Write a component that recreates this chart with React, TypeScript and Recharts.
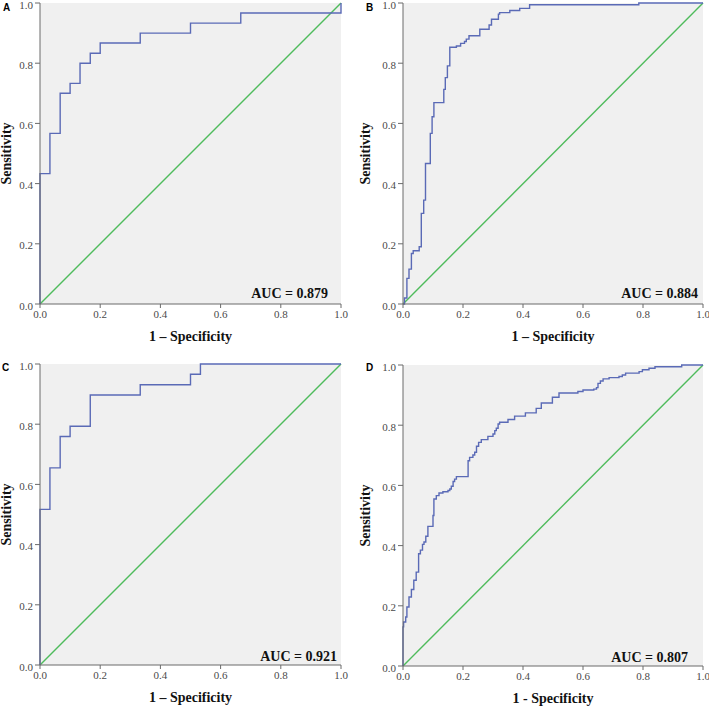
import { CartesianGrid, Line, LineChart, ReferenceLine, XAxis, YAxis } from 'recharts';

type Pt = [number, number];

const TICKS = [0, 0.2, 0.4, 0.6, 0.8, 1];
const PANEL_LETTERS = ['A', 'B', 'C', 'D'];
const AUC_VALUES = ['0.879', '0.884', '0.921', '0.807'];
const X_LABELS = ['1 – Specificity', '1 – Specificity', '1 – Specificity', '1 - Specificity'];
const DIAGONAL: Pt[] = [[0, 0], [1, 1]];

// ROC points (1 - specificity, sensitivity); drawn as step-after
const ROC_A: Pt[] = [
  [0, 0], [0, 0.433], [0.033, 0.567], [0.067, 0.7], [0.1, 0.733], [0.133, 0.8],
  [0.167, 0.833], [0.2, 0.867], [0.333, 0.9], [0.5, 0.933], [0.667, 0.967], [1, 1],
];

const ROC_B: Pt[] = [
  [0, 0], [0.005, 0.02], [0.013, 0.085], [0.02, 0.116], [0.028, 0.168], [0.034, 0.177],
  [0.054, 0.19], [0.061, 0.301], [0.069, 0.345], [0.075, 0.467], [0.091, 0.567],
  [0.097, 0.622], [0.103, 0.669], [0.136, 0.713], [0.141, 0.752], [0.148, 0.791],
  [0.156, 0.853], [0.178, 0.857], [0.192, 0.866], [0.205, 0.872], [0.211, 0.88],
  [0.22, 0.891], [0.256, 0.913], [0.287, 0.927], [0.295, 0.946], [0.318, 0.963],
  [0.322, 0.968], [0.356, 0.975], [0.389, 0.982], [0.422, 0.994], [0.786, 1], [1, 1],
];

const ROC_C: Pt[] = [
  [0, 0], [0, 0.517], [0.033, 0.655], [0.067, 0.759], [0.1, 0.793], [0.167, 0.897],
  [0.333, 0.931], [0.5, 0.966], [0.533, 1], [1, 1],
];

const ROC_D: Pt[] = [
  [0, 0], [0, 0.13], [0.002, 0.146], [0.009, 0.163], [0.013, 0.196], [0.02, 0.229],
  [0.028, 0.254], [0.036, 0.285], [0.044, 0.312], [0.052, 0.373], [0.058, 0.385],
  [0.065, 0.404], [0.07, 0.412], [0.076, 0.431], [0.083, 0.464], [0.1, 0.5],
  [0.103, 0.555], [0.111, 0.566], [0.12, 0.575], [0.133, 0.579], [0.15, 0.583],
  [0.156, 0.588], [0.161, 0.597], [0.167, 0.613], [0.172, 0.621], [0.178, 0.629],
  [0.217, 0.682], [0.222, 0.693], [0.233, 0.701], [0.239, 0.71], [0.245, 0.73],
  [0.252, 0.743], [0.261, 0.752], [0.283, 0.763], [0.3, 0.771], [0.306, 0.782],
  [0.311, 0.79], [0.317, 0.804], [0.322, 0.81], [0.35, 0.819], [0.372, 0.83],
  [0.408, 0.841], [0.444, 0.856], [0.461, 0.874], [0.498, 0.893], [0.52, 0.907],
  [0.583, 0.912], [0.6, 0.917], [0.636, 0.92], [0.645, 0.925], [0.65, 0.939],
  [0.658, 0.947], [0.667, 0.954], [0.687, 0.958], [0.72, 0.962], [0.731, 0.967],
  [0.742, 0.973], [0.787, 0.978], [0.798, 0.984], [0.82, 0.989], [0.84, 0.994],
  [0.929, 1], [1, 1],
];

const ROC_CURVES = [ROC_A, ROC_B, ROC_C, ROC_D];

const LAYOUT = [
  { left: 0, top: 0, width: 355, height: 350, margin: { top: 3, right: 14, bottom: 6, left: 0 }, yAxisWidth: 40, yLabelOffset: 6, letterPos: { left: 3, top: 3 }, aucRight: 328, aucTop: 286.5 },
  { left: 355, top: 0, width: 354, height: 350, margin: { top: 3, right: 6, bottom: 6, left: 0 }, yAxisWidth: 48, yLabelOffset: 10, letterPos: { left: 366, top: 3 }, aucRight: 698, aucTop: 286.5 },
  { left: 0, top: 350, width: 355, height: 356, margin: { top: 14, right: 14, bottom: 1, left: 0 }, yAxisWidth: 40, yLabelOffset: 6, letterPos: { left: 2, top: 363 }, aucRight: 337, aucTop: 650 },
  { left: 355, top: 350, width: 354, height: 356, margin: { top: 15, right: 6, bottom: 0, left: 0 }, yAxisWidth: 48, yLabelOffset: 10, letterPos: { left: 366, top: 363 }, aucRight: 688, aucTop: 651 },
];

const BLUE = '#5a6ab6';
const GREEN = '#4fbb5c';
const FRAME = '#6b6b6b';
const SERIF = '"Liberation Serif", "Times New Roman", serif';

const toRows = (pts: Pt[]) => pts.map(([fpr, tpr]) => ({ fpr, tpr }));
const fmt = (v: number) => v.toFixed(1);

const tickText = { fontSize: 11, fill: '#4a4a4a', fontFamily: SERIF };

// y tick labels sit a touch below their tick, like the original
function YTick({ x, y, payload }: any) {
  return (
    <text x={x} y={y} dy={5.5} textAnchor="end" style={tickText}>
      {fmt(payload.value)}
    </text>
  );
}

function RocPanel({ index }: { index: number }) {
  const lay = LAYOUT[index];
  const labelStyle = { fontSize: 14, fontWeight: 700, fill: '#111', fontFamily: SERIF };
  const [p0, p1] = DIAGONAL;

  return (
    <div style={{ position: 'absolute', left: lay.left, top: lay.top }}>
      <LineChart width={lay.width} height={lay.height} margin={lay.margin}>
        <CartesianGrid fill="#f0f0f0" horizontal={false} vertical={false} />
        <XAxis
          type="number"
          dataKey="fpr"
          domain={[0, 1]}
          ticks={TICKS}
          interval={0}
          tickFormatter={fmt}
          tick={tickText}
          tickSize={4}
          height={40}
          stroke={FRAME}
          label={{ value: X_LABELS[index], position: 'insideBottom', offset: 3, style: labelStyle }}
        />
        <XAxis xAxisId="top" orientation="top" type="number" domain={[0, 1]} tick={false} tickLine={false} height={0} stroke={FRAME} />
        <YAxis
          type="number"
          domain={[0, 1]}
          ticks={TICKS}
          interval={0}
          tick={<YTick />}
          tickSize={5}
          width={lay.yAxisWidth}
          stroke={FRAME}
          label={{ value: 'Sensitivity', angle: -90, position: 'insideLeft', offset: lay.yLabelOffset, style: { ...labelStyle, textAnchor: 'middle' } }}
        />
        <YAxis yAxisId="right" orientation="right" type="number" domain={[0, 1]} tick={false} tickLine={false} width={0} stroke={FRAME} />
        <ReferenceLine
          segment={[{ x: p0[0], y: p0[1] }, { x: p1[0], y: p1[1] }]}
          stroke={GREEN}
          strokeWidth={1.4}
        />
        <Line
          data={toRows(ROC_CURVES[index])}
          dataKey="tpr"
          name={`roc-${PANEL_LETTERS[index]}`}
          type="stepAfter"
          stroke={BLUE}
          strokeWidth={1.4}
          dot={false}
          activeDot={false}
          isAnimationActive={false}
        />
      </LineChart>
    </div>
  );
}

export default function App() {
  return (
    <div style={{ position: 'absolute', left: 0, top: 0, width: 709, height: 706, background: '#fff' }}>
      {LAYOUT.map((_, i) => (
        <RocPanel key={i} index={i} />
      ))}
      {LAYOUT.map((lay, i) => (
        <div
          key={`l${i}`}
          style={{ position: 'absolute', left: lay.letterPos.left, top: lay.letterPos.top, fontFamily: '"Liberation Sans", Arial, sans-serif', fontWeight: 700, fontSize: 10, lineHeight: 1 }}
        >
          {PANEL_LETTERS[i]}
        </div>
      ))}
      {LAYOUT.map((lay, i) => (
        <div
          key={`a${i}`}
          style={{ position: 'absolute', left: 0, top: lay.aucTop, width: lay.aucRight, textAlign: 'right', fontFamily: SERIF, fontWeight: 700, fontSize: 14, lineHeight: 1, whiteSpace: 'nowrap', color: '#111', pointerEvents: 'none' }}
        >
          AUC = {AUC_VALUES[i]}
        </div>
      ))}
    </div>
  );
}
